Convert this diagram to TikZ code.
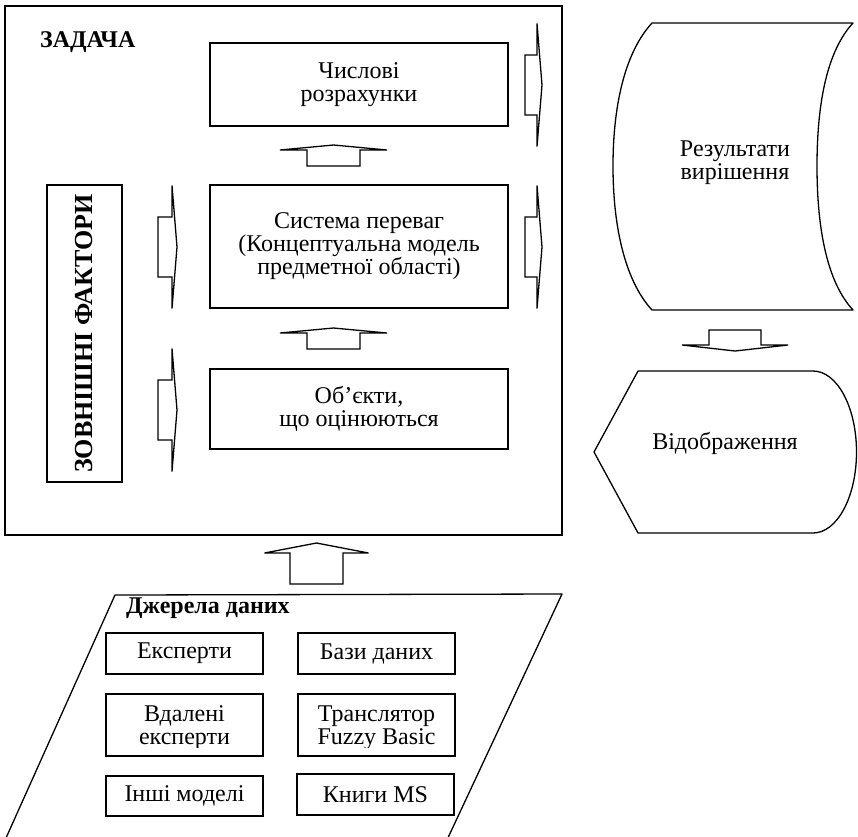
\documentclass[tikz,border=0pt]{standalone}
\usepackage{fontspec}
\setmainfont{Liberation Serif}
\begin{document}
\begin{tikzpicture}[x=1pt,y=-1pt,
  every node/.style={font=\fontsize{24}{23}\selectfont, align=center, inner sep=0pt},
  box/.style={draw, line width=1.3pt},
  shp/.style={draw, line width=1.3pt, line join=round},
  blk/.style={draw, line width=1.3pt, line join=miter, fill=white},
  ttl/.style={font=\fontsize{24}{23}\selectfont\bfseries},
]
\useasboundingbox (0,0) rectangle (858,836);
\clip (0,0) rectangle (858,836);

% main frame
\node[box, minimum width=557, minimum height=529] (task) at (283.5,270.5) {};
\node[ttl, anchor=base west] (tasklbl) at (40,47.7) {ЗАДАЧА};

% inner boxes
\node[box, minimum width=298, minimum height=83] (num) at (359,84.5) {Числові\\розрахунки};
\node[box, minimum width=298, minimum height=123] (sys) at (359,246.5) {Система переваг\\(Концептуальна модель\\предметної області)};
\node[box, minimum width=298, minimum height=80] (obj) at (359,409) {Об’єкти,\\що оцінюються};
\node[box, rotate=90, minimum width=297, minimum height=75, font=\fontsize{26}{24}\selectfont\bfseries] (ext) at (84.5,333.5) {ЗОВНІШНІ ФАКТОРИ};

% block arrows: up
\draw[blk, shift={(333.5,166)}] (-26.5,0) -- (-26.5,-16) -- (-53.5,-16) -- (0,-21) -- (53.5,-16) -- (26.5,-16) -- (26.5,0) -- cycle;
\draw[blk, shift={(333.5,349)}] (-26.5,0) -- (-26.5,-16) -- (-53.5,-16) -- (0,-21) -- (53.5,-16) -- (26.5,-16) -- (26.5,0) -- cycle;
% block arrows: right
\draw[blk, shift={(525,85)}] (0,-30) -- (12,-30) -- (12,-61.5) -- (17,0) -- (12,61.5) -- (12,30) -- (0,30) -- cycle;
\draw[blk, shift={(525,247)}] (0,-30) -- (12,-30) -- (12,-61.5) -- (17,0) -- (12,61.5) -- (12,30) -- (0,30) -- cycle;
\draw[blk, shift={(158,247)}] (0,-30) -- (14,-30) -- (14,-61.5) -- (19,0) -- (14,61.5) -- (14,30) -- (0,30) -- cycle;
\draw[blk, shift={(158,410)}] (0,-30) -- (14,-30) -- (14,-61.5) -- (19,0) -- (14,61.5) -- (14,30) -- (0,30) -- cycle;

% results (stored data)
\draw[shp] (652,23) -- (853,23)
  .. controls (828,50) and (817,100) .. (817,166)
  .. controls (817,232) and (828,283) .. (853,310)
  -- (652,310)
  .. controls (627,283) and (613,232) .. (613,166)
  .. controls (613,100) and (627,50) .. (652,23) -- cycle;
\node (res) at (735,163) {Результати\\вирішення};

% down arrow
\draw[blk, shift={(735,330)}] (-26,0) -- (-26,15) -- (-53,15) -- (0,21) -- (53,15) -- (26,15) -- (26,0) -- cycle;

% display
\draw[shp] (638,371) -- (813,371)
  .. controls (837,371) and (856.5,407) .. (856.5,452)
  .. controls (856.5,497) and (837,533) .. (813,533)
  -- (638,533) -- (594,452) -- cycle;
\node (disp) at (725,443) {Відображення};

% bottom up arrow
\draw[blk, shift={(316.5,584)}] (-26.5,0) -- (-26.5,-31) -- (-52,-31) -- (0,-41) -- (52,-31) -- (26.5,-31) -- (26.5,0) -- cycle;

% data sources parallelogram
\draw[shp] (4.2,842) -- (115,595) -- (562,594) -- (446,842);
\node[ttl, anchor=west] (srclbl) at (126,608) {Джерела даних};

\node[box, minimum width=157, minimum height=41] (exp) at (184.5,653.5) {Експерти};
\node[box, minimum width=157, minimum height=41] (db) at (376.5,653.5) {Бази даних};
\node[box, minimum width=157, minimum height=62] (rem) at (184.5,725) {};
\node[box, minimum width=157, minimum height=62] (tr) at (376.5,725) {};
\node[box, minimum width=157, minimum height=40] (oth) at (184.5,796) {Інші моделі};
\node[box, minimum width=157, minimum height=41] (ms) at (375.5,794.5) {Книги MS};
\begin{scope}
  \clip (100,695) rectangle (470,747.8);
  \node (remt) at (184.5,728) {Вдалені\\експерти};
  \node (trt) at (376.5,728) {Транслятор\\Fuzzy Basic};
\end{scope}
\end{tikzpicture}
\end{document}
